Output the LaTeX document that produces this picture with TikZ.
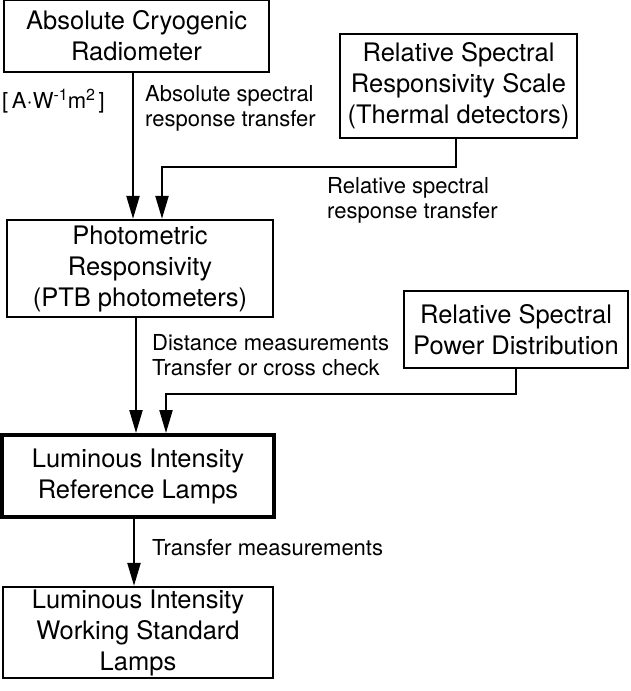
\documentclass[tikz,border=0pt]{standalone}
\usepackage{fontspec}
\setmainfont{TeX Gyre Heros}
\usetikzlibrary{arrows.meta}
\newcommand{\mysup}[1]{\raisebox{8pt}{\fontsize{16}{16}\selectfont #1}}
\begin{document}
\begin{tikzpicture}[x=1pt,y=-1pt,
  box/.style={draw, line width=2.3pt, rectangle, align=center, inner sep=0pt,
    font=\fontsize{25.5}{31}\selectfont},
  thickbox/.style={box, line width=4pt},
  lbl/.style={anchor=west, align=left, inner sep=0pt,
    font=\fontsize{22}{25}\selectfont},
  arr/.style={line width=2.2pt, -{Triangle[length=23pt,width=13pt]}}]
\useasboundingbox (0,0) rectangle (630,691);
\node[box, minimum width=265pt, minimum height=72pt] (b1) at (136.5,36) {Absolute Cryogenic\\Radiometer};
\node[box, minimum width=237pt, minimum height=104pt] (rsrs) at (458.5,86) {Relative Spectral\\Responsivity Scale\\(Thermal detectors)};
\node[box, minimum width=266pt, minimum height=97pt] (b2) at (140,268.5) {Photometric\\Responsivity\\(PTB photometers)};
\node[box, minimum width=224pt, minimum height=77pt] (rspd) at (516,329.5) {Relative Spectral\\Power Distribution};
\node[thickbox, minimum width=272pt, minimum height=82pt] (b3) at (138,476) {Luminous Intensity\\Reference Lamps};
\node[box, minimum width=270pt, minimum height=91pt] (b4) at (138,632.5) {Luminous Intensity\\Working Standard\\Lamps};

\node[lbl] (unit) at (2,101) {[\,A·W\mysup{-1}m\mysup{2}\,]};
\node[lbl] (l1) at (145,108) {Absolute spectral\\response transfer};
\node[lbl] (l2) at (327,200) {Relative spectral\\response transfer};
\node[lbl] (l3) at (152,355) {Distance measurements\\Transfer or cross check};
\node[lbl] (l4) at (152,548) {Transfer measurements};

\draw[arr] ([xshift=-3.5pt]b1.south) -- ([xshift=-3.5pt]b1.south |- b2.north);
\draw[arr] ([xshift=-2.5pt]rsrs.south) -- ++(0,28) -| ([xshift=22pt]b2.north);
\draw[arr] ([xshift=-4pt]b2.south) -- ([xshift=-4pt]b2.south |- b3.north);
\draw[arr] (rspd.south) -- ++(0,25) -| ([xshift=28pt]b3.north);
\draw[arr] ([xshift=-4pt]b3.south) -- ([xshift=-4pt]b3.south |- b4.north);
\end{tikzpicture}
\end{document}
